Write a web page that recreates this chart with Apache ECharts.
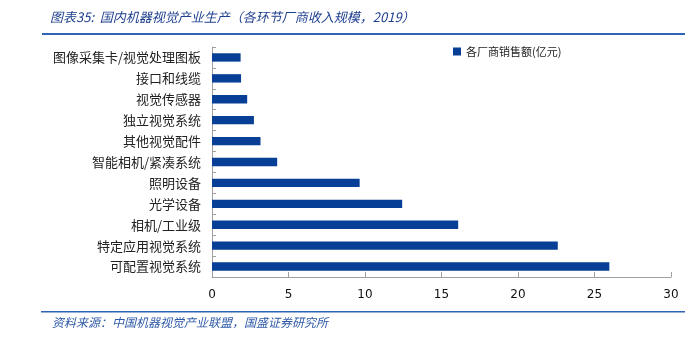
<!DOCTYPE html>
<html><head><meta charset="utf-8">
<script src="https://cdn.jsdelivr.net/npm/echarts@6/dist/echarts.min.js"></script>
<style>html,body{margin:0;padding:0;background:#fff}#c{width:698px;height:339px}</style>
</head><body><div id="c"></div>
<script>
const categories = ['可配置视觉系统','特定应用视觉系统','相机/工业级','光学设备','照明设备','智能相机/紧凑系统','其他视觉配件','独立视觉系统','视觉传感器','接口和线缆','图像采集卡/视觉处理图板'];
const values = [25.97, 22.6, 16.09, 12.43, 9.65, 4.26, 3.17, 2.74, 2.3, 1.9, 1.87];
const seriesName = '各厂商销售额(亿元)';
const titleText = '图表35:  国内机器视觉产业生产（各环节厂商收入规模，2019）';
const sourceText = '资料来源：中国机器视觉产业联盟，国盛证券研究所';
const xTicks = {min: 0, max: 30, interval: 5};

const chart = echarts.init(document.getElementById('c'));
const cjk = '"Noto Sans CJK SC", sans-serif';
chart.setOption({
  animation: false,
  grid: {left: 212, right: 27, top: 47, bottom: 62},
  legend: {
    data: [seriesName], top: 41, left: 448, itemWidth: 8, itemHeight: 8, itemGap: 3,
    icon: 'rect', textStyle: {fontFamily: cjk, fontSize: 11, color: '#222'}
  },
  xAxis: {
    type: 'value', min: xTicks.min, max: xTicks.max, interval: xTicks.interval,
    axisLine: {show: true, lineStyle: {color: '#a0a0a0'}},
    axisTick: {show: true, inside: true, length: 5, lineStyle: {color: '#a0a0a0'}},
    splitLine: {show: false},
    axisLabel: {fontFamily: '"DejaVu Sans", sans-serif', fontSize: 12, color: '#111', margin: 12}
  },
  yAxis: {
    type: 'category', data: categories,
    axisLine: {show: true, lineStyle: {color: '#a0a0a0'}},
    axisTick: {show: true, inside: true, length: 4, lineStyle: {color: '#a0a0a0'}},
    axisLabel: {fontFamily: cjk, fontSize: 13, color: '#222', margin: 11}
  },
  series: [{
    name: seriesName, type: 'bar', data: values, barWidth: '40%',
    itemStyle: {color: '#063f95'}
  }],
  graphic: [
    {type: 'text', left: 50, top: 11, style: {text: titleText, fill: '#1f3f8f', font: 'italic 13px "Noto Sans CJK SC", sans-serif'}},
    {type: 'rect', shape: {x: 42, y: 33, width: 643, height: 2}, style: {fill: '#2f63b5'}},
    {type: 'rect', shape: {x: 41, y: 311, width: 644, height: 1.5}, style: {fill: '#2f63b5'}},
    {type: 'text', left: 52, top: 316, style: {text: sourceText, fill: '#2f5aa8', font: 'italic 12px "Noto Sans CJK SC", sans-serif'}}
  ]
});
</script></body></html>
